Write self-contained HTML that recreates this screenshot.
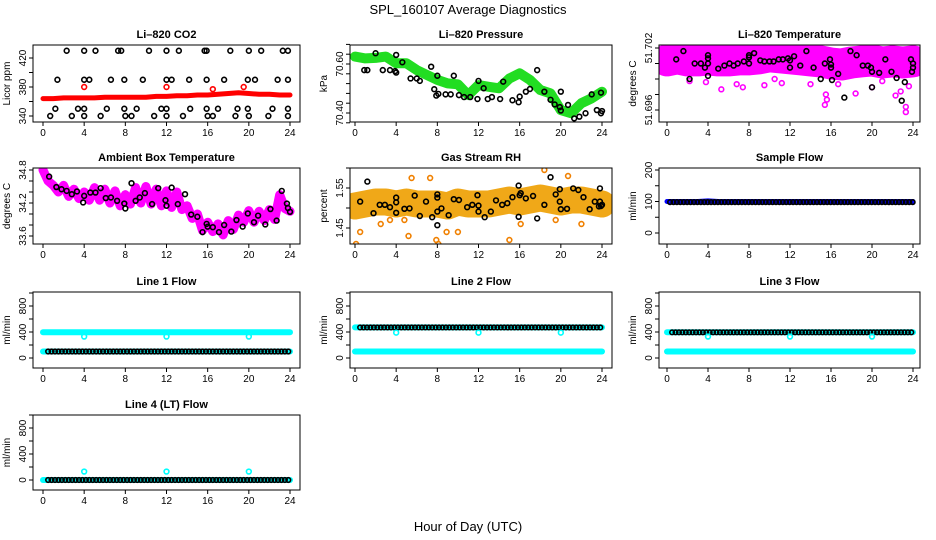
<!DOCTYPE html>
<html><head><meta charset="utf-8">
<style>
html,body{margin:0;padding:0;background:#fff;}
svg{display:block;font-family:"Liberation Sans",Arial,sans-serif;}
</style></head>
<body>
<svg id="chart" width="936" height="540" viewBox="0 0 936 540" xmlns="http://www.w3.org/2000/svg">
<text x="468" y="14" font-size="13" text-anchor="middle">SPL_160107  Average Diagnostics</text>
<text x="468" y="531" font-size="13" text-anchor="middle">Hour of Day (UTC)</text>
</svg>
<script>
// ---------- data ----------
const hours = [0,1,2,3,4,5,6,7,8,9,10,11,12,13,14,15,16,17,18,19,20,21,22,23,24];
const xTicks = [0,4,8,12,16,20,24];

// CO2
const co2Red = [364,364,365,365,365,365,366,366,366,366,366,367,367,368,368,369,369,370,371,372,371,370,370,369,369];
const co2RedOutX = [4,12,16.5,19.5];
const co2RedOutY = [380,380,377,380];
const co2X430 = [2.3,4,5.1,7.3,7.6,10.3,12,13.2,15.7,15.9,18.2,20,21.2,23.3,23.8];
const co2X390 = [1.4,4,4.5,6.6,7.9,9.7,12,12.5,14.2,15.9,17.6,19.9,20.6,22.8,23.8];
const co2X350 = [1.2,3.4,4,6.2,7.9,9.1,11.5,12,14.3,15.9,17,18.9,19.9,22.3,23.8];
const co2X340 = [0.7,2.8,4,5.6,8,8.6,10.8,12,13.6,16,16.5,18.7,20,21.9,23.8];

// Pressure
const presGreen = [70.63,70.623,70.625,70.63,70.603,70.603,70.575,70.555,70.535,70.521,70.517,70.473,70.514,70.507,70.501,70.541,70.562,70.535,70.494,70.48,70.412,70.399,70.44,70.46,70.487];
const presBlackX = [0.9,1.2,2.0,2.7,3.4,3.9,4,4,4.6,5.4,6.0,6.3,7.4,7.7,8,7.9,8.1,8.8,9.3,9.6,10.1,10.6,11.2,11.9,12,12.5,12.9,13.3,14.1,14.4,15.3,15.9,16,16.6,17,17.7,18.4,19,19.4,19.9,20,20,20.7,21.3,21.8,22.4,23,23.5,23.9,23.9,24];
const presBlackY = [70.575,70.575,70.644,70.575,70.575,70.571,70.637,70.565,70.607,70.541,70.541,70.531,70.589,70.497,70.552,70.471,70.478,70.476,70.476,70.552,70.473,70.465,70.465,70.457,70.531,70.501,70.457,70.465,70.457,70.528,70.452,70.444,70.467,70.487,70.498,70.575,70.487,70.454,70.435,70.424,70.41,70.487,70.433,70.378,70.385,70.399,70.476,70.412,70.399,70.483,70.408];

// Li-820 temperature
const tempBand = [51.7008,51.7010,51.7008,51.7008,51.7009,51.7008,51.7008,51.7009,51.7009,51.7010,51.7012,51.7011,51.7010,51.7009,51.7008,51.7007,51.7005,51.7004,51.7006,51.7007,51.7008,51.7006,51.7007,51.7006,51.7007];
const tempOutX = [0.2,2.2,3.8,5.3,6.8,7.4,9.5,10.5,11.2,14,15.5,15.6,15.4,16.7,18.4,20,21,22.3,22.8,23.3,23.3,23.6];
const tempOutY = [51.6998,51.6988,51.6987,51.6980,51.6985,51.6982,51.6984,51.6990,51.6986,51.6985,51.6975,51.6970,51.6965,51.6985,51.6976,51.6982,51.6988,51.6974,51.6978,51.6963,51.6958,51.6983];
const tempBlackX = [0.9,1.6,2.2,2.7,3.3,4.0,4.0,4.0,4.0,3.7,5.0,5.6,6.1,6.5,6.9,7.5,8,8,8,8.5,9.1,9.5,10.0,10.4,10.9,11.3,11.8,12,12,12.4,13,13.6,14.3,15.0,15.4,15.9,16,16,16.1,16.7,17.3,17.9,18.5,19.1,19.6,19.9,20,20,20.7,21.3,21.9,22.4,22.9,23.2,23.8,23.9,24,24];
const tempBlackY = [51.7009,51.7017,51.6990,51.7005,51.7005,51.6993,51.7005,51.7010,51.7013,51.7001,51.7000,51.7003,51.7005,51.7003,51.7005,51.7007,51.7005,51.7013,51.7011,51.7015,51.7008,51.7007,51.7007,51.7007,51.7009,51.7009,51.7010,51.7008,51.7001,51.7012,51.7003,51.7017,51.7001,51.6990,51.7005,51.7009,51.7004,51.7001,51.6989,51.6995,51.6972,51.7017,51.7013,51.7003,51.7003,51.7001,51.6997,51.6982,51.6996,51.7009,51.6997,51.6991,51.6969,51.6987,51.7009,51.6997,51.7005,51.7001];

// Ambient box temperature (half-hourly)
const ambMagenta = [34.80,34.60,34.52,34.40,34.52,34.32,34.45,34.28,34.40,34.25,34.48,34.25,34.45,34.20,34.42,34.15,34.35,34.18,34.48,34.20,34.50,34.18,34.45,34.15,34.42,34.12,34.40,34.08,34.15,33.92,34.00,33.70,33.85,33.68,33.82,33.62,33.88,33.72,33.98,33.85,34.06,33.85,34.05,33.88,34.08,33.90,34.35,34.10,34.05];
const ambBlackX = [0.6,1.3,1.8,2.3,2.8,3.3,3.9,4,4.6,5.1,5.6,6.1,6.6,7.2,7.9,8,8.6,9.0,9.4,9.9,10.6,11.2,11.9,12,12.5,13.1,13.8,14.4,15,15.5,15.9,16,16.5,17.1,17.6,18.3,18.8,19.4,19.9,20.5,20.9,21.6,22.1,22.7,23.2,23.7,23.8,24];
const ambBlackY = [34.68,34.49,34.45,34.42,34.36,34.41,34.21,34.33,34.39,34.39,34.47,34.29,34.30,34.24,34.19,34.10,34.56,34.24,34.30,34.38,34.18,34.47,34.25,34.15,34.48,34.18,34.36,33.99,33.95,33.67,33.82,33.77,33.76,33.67,33.80,33.68,33.89,33.77,34.01,33.85,33.97,33.81,34.09,33.88,34.42,34.19,34.11,34.04];

// Gas stream RH
const rhBand = [1.505,1.51,1.515,1.515,1.51,1.515,1.51,1.51,1.51,1.505,1.515,1.51,1.51,1.51,1.515,1.52,1.515,1.52,1.525,1.52,1.515,1.52,1.52,1.515,1.51];
const rhOutX = [0.1,0.5,2.5,3.4,5.2,4.8,7.3,7.9,8.1,8.9,10.0,15.0,16.1,18.4,20.7,22.0,19.5,5.5];
const rhOutY = [1.41,1.44,1.46,1.47,1.43,1.47,1.575,1.42,1.41,1.44,1.44,1.42,1.46,1.595,1.58,1.46,1.47,1.575];
const rhBlackX = [0.5,1.2,1.8,2.4,2.9,3.4,4,4,4,4.8,5.3,5.8,6.3,6.9,7.5,8,8,8,8,8.4,9.1,9.6,10.1,10.9,11.4,11.9,12,12,12.6,13.2,13.7,14.3,14.8,15.3,15.9,15.9,16,16.1,16.6,17.3,17.7,18.4,19,19.5,19.9,19.9,20,20.6,21.2,21.7,22.2,22.8,23.3,23.8,23.8,23.9,24,23.7];
const rhBlackY = [1.516,1.566,1.487,1.508,1.508,1.502,1.526,1.514,1.488,1.498,1.499,1.531,1.48,1.516,1.477,1.491,1.457,1.526,1.534,1.499,1.482,1.522,1.52,1.502,1.508,1.532,1.491,1.506,1.477,1.491,1.519,1.508,1.512,1.527,1.556,1.478,1.532,1.537,1.524,1.53,1.474,1.508,1.577,1.534,1.547,1.516,1.497,1.498,1.549,1.545,1.527,1.497,1.516,1.549,1.516,1.505,1.508,1.504];

// Flows (hourly)
const sampleBlue = [100,100,100,100,102,100,100,100,100,100,100,100,100,100,100,100,100,100,100,100,100,100,100,100,100];
const sampleBlack = [98,98,98,98,98,98,98,98,98,98,98,98,98,98,98,98,98,98,98,98,98,98,98,98,98];
const line1CyanHi = [395,395,395,395,395,395,395,395,395,395,395,395,395,395,395,395,395,395,395,395,395,395,395,395,395];
const line1CyanLo = [100,100,100,100,100,100,100,100,100,100,100,100,100,100,100,100,100,100,100,100,100,100,100,100,100];
const line1Black = [100,100,100,100,100,100,100,100,100,100,100,100,100,100,100,100,100,100,100,100,100,100,100,100,100];
const line1DipX = [4,12,20];
const line1DipY = [330,330,330];
const line2CyanHi = [470,470,470,470,470,470,470,470,470,470,470,470,470,470,470,470,470,470,470,470,470,470,470,470,470];
const line2CyanLo = [100,100,100,100,100,100,100,100,100,100,100,100,100,100,100,100,100,100,100,100,100,100,100,100,100];
const line2Black = [470,470,470,470,470,470,470,470,470,470,470,470,470,470,470,470,470,470,470,470,470,470,470,470,470];
const line2DipX = [4,12,20];
const line2DipY = [390,390,390];
const line3CyanHi = [395,395,395,395,395,395,395,395,395,395,395,395,395,395,395,395,395,395,395,395,395,395,395,395,395];
const line3CyanLo = [100,100,100,100,100,100,100,100,100,100,100,100,100,100,100,100,100,100,100,100,100,100,100,100,100];
const line3Black = [395,395,395,395,395,395,395,395,395,395,395,395,395,395,395,395,395,395,395,395,395,395,395,395,395];
const line3DipX = [4,12,20];
const line3DipY = [330,330,330];
const line4Cyan = [0,0,0,0,0,0,0,0,0,0,0,0,0,0,0,0,0,0,0,0,0,0,0,0,0];
const line4Black = [0,0,0,0,0,0,0,0,0,0,0,0,0,0,0,0,0,0,0,0,0,0,0,0,0];
const line4SpikeX = [4,12,20];
const line4SpikeY = [130,130,130];

// ---------- drawing ----------
const NS = "http://www.w3.org/2000/svg";
const svg = document.getElementById("chart");
const colL = [33,350,659], colR = [300,612,920], colX0 = [43,355,667], colX24 = [290,602,913];
const rowT = [45,168,292,415], rowB = [122,244,368,490];
function mk(tag, attrs, parent){ const e=document.createElementNS(NS,tag); for(const k in attrs) e.setAttribute(k,attrs[k]); (parent||svg).appendChild(e); return e; }

function panel(id, r, c, title, ylab, v1, p1, v2, p2, yticks, ylabels, dec){
  const g = mk("g",{});
  
  
  const L=colL[c], R=colR[c], T=rowT[r], B=rowB[r];
  const xs = h => colX0[c] + (colX24[c]-colX0[c])*h/24;
  const ys = v => p1 + (v-v1)*(p2-p1)/(v2-v1);
  const cp = mk("clipPath",{id:"clip-"+id},g);
  mk("rect",{x:L,y:T,width:R-L,height:B-T},cp);
  const plot = mk("g",{"clip-path":"url(#clip-"+id+")"},g);
  const t = mk("text",{x:(L+R)/2,y:T-7,"font-size":"11","font-weight":"bold","text-anchor":"middle"},g);
  t.textContent = title;
  
  
  const yl = mk("text",{x:0,y:0,"font-size":"10","text-anchor":"middle",transform:`translate(${L-23},${(T+B)/2}) rotate(-90)`},g);
  yl.textContent = ylab;
  
  
  mk("rect",{x:L,y:T,width:R-L,height:B-T,fill:"none",stroke:"#000","stroke-width":1},g);
  xTicks.forEach(h=>{
    const x=xs(h);
    mk("line",{x1:x,y1:B,x2:x,y2:B+4,stroke:"#000"},g);
    const tl=mk("text",{x:x,y:B+14,"font-size":"10","text-anchor":"middle"},g);
    tl.textContent=h;
    
    
  });
  yticks.forEach(v=>{
    const y=ys(v); if(y<T-2||y>B+2) return;
    mk("line",{x1:L-4,y1:y,x2:L,y2:y,stroke:"#000"},g);
  });
  ylabels.forEach(v=>{
    const y=ys(v);
    const tl=mk("text",{x:0,y:0,"font-size":"10","text-anchor":"middle",transform:`translate(${L-7},${y}) rotate(-90)`},g);
    tl.textContent= dec!==undefined ? v.toFixed(dec) : v;
    
    
  });
  return {plot, xs, ys};
}
function band(P, xsArr, vals, color, w, name, op){
  const pts = vals.map((v,i)=>P.xs(xsArr[i]).toFixed(1)+","+P.ys(v).toFixed(1)).join(" ");
  const pl = mk("polyline",{points:pts,fill:"none",stroke:color,"stroke-width":w,"stroke-linejoin":"round","stroke-linecap":"round","stroke-opacity":op||1},P.plot);
  
  
}
function pts(P, xArr, yArr, color, name, r){
  xArr.forEach((h,i)=>{
    const c = mk("circle",{cx:P.xs(h),cy:P.ys(yArr[i]),r:r||2.4,fill:"none",stroke:color,"stroke-width":1.6},P.plot);
    
    
  });
}
function hourlyPts(P, vals, color, name, start){
  vals.forEach((v,i)=>{
    if(i===24) return;
    for(let k=0;k<3;k++){
      const h = i + k/3 + (start||0);
      if(h>24) continue;
      const c = mk("circle",{cx:P.xs(h),cy:P.ys(v),r:2.3,fill:"none",stroke:color,"stroke-width":1.6},P.plot);
      
      
    }
  });
}
const halfHours = ambMagenta.map((_,i)=>i/2);

// Panel 1
let P = panel("co2",0,0,"Li\u2013820 CO2","Licor ppm",340,116,420,58,[340,360,380,400,420],[340,380,420]);
band(P,hours,co2Red,"#ff0000",5,"co2-series");
pts(P,co2RedOutX,co2RedOutY,"#ff0000","co2-outlier");
pts(P,co2X430,co2X430.map(()=>430),"#000","co2-ref-point");
pts(P,co2X390,co2X390.map(()=>390),"#000","co2-ref-point");
pts(P,co2X350,co2X350.map(()=>350),"#000","co2-ref-point");
pts(P,co2X340,co2X340.map(()=>340),"#000","co2-ref-point");

// Panel 2
P = panel("pressure",0,1,"Li\u2013820 Pressure","kPa",70.40,113,70.60,64,[70.36,70.40,70.44,70.48,70.52,70.56,70.60,70.64,70.68],[70.40,70.60],2);
band(P,hours,presGreen,"#22dd22",10,"pressure-series");
pts(P,presBlackX,presBlackY,"#000","pressure-ref-point");

// Panel 3
P = panel("temperature",0,2,"Li\u2013820 Temperature","degrees C",51.696,110,51.702,48,[51.6945,51.696,51.6975,51.699,51.7005,51.702],[51.696,51.702],3);
band(P,hours,tempBand,"#ff00ff",32,"temperature-series");
pts(P,tempOutX,tempOutY,"#ff00ff","temperature-outlier");
pts(P,tempBlackX,tempBlackY,"#000","temperature-ref-point");

// Panel 4
P = panel("ambient",1,0,"Ambient Box Temperature","degrees C",33.6,236,34.8,170,[33.6,33.8,34.0,34.2,34.4,34.6,34.8],[33.6,34.2,34.8],1);
band(P,halfHours,ambMagenta,"#ff00ff",9,"ambient-series");
pts(P,ambBlackX,ambBlackY,"#000","ambient-ref-point");

// Panel 5
P = panel("rh",1,1,"Gas Stream RH","percent",1.45,228,1.55,188,[1.40,1.45,1.50,1.55,1.60],[1.45,1.55],2);
band(P,hours,rhBand,"#f0a818",27,"rh-series");
pts(P,rhOutX,rhOutY,"#f08000","rh-outlier");
pts(P,rhBlackX,rhBlackY,"#000","rh-ref-point");

// Panel 6
P = panel("sample-flow",1,2,"Sample Flow","ml/min",0,233,200,170,[0,50,100,150,200],[0,100,200]);
band(P,hours,sampleBlue,"#0000ff",5,"sample-flow-series");
hourlyPts(P,sampleBlack,"#000","sample-flow-ref-point",0.3);

// Row 3
const flowTicks=[-200,0,200,400,600,800,1000], flowLabels=[0,400,800];
P = panel("line1-flow",2,0,"Line 1 Flow","ml/min",0,358,800,306,flowTicks,flowLabels);
band(P,hours,line1CyanHi,"#00ffff",6,"line1-flow-series");
band(P,hours,line1CyanLo,"#00ffff",6,"line1-flow-series");
hourlyPts(P,line1Black,"#000","line1-flow-ref-point",0.5);
pts(P,line1DipX,line1DipY,"#00ffff","line1-flow-dip");

P = panel("line2-flow",2,1,"Line 2 Flow","ml/min",0,358,800,306,flowTicks,flowLabels);
band(P,hours,line2CyanHi,"#00ffff",6,"line2-flow-series");
band(P,hours,line2CyanLo,"#00ffff",6,"line2-flow-series");
hourlyPts(P,line2Black,"#000","line2-flow-ref-point",0.5);
pts(P,line2DipX,line2DipY,"#00ffff","line2-flow-dip");

P = panel("line3-flow",2,2,"Line 3 Flow","ml/min",0,358,800,306,flowTicks,flowLabels);
band(P,hours,line3CyanHi,"#00ffff",6,"line3-flow-series");
band(P,hours,line3CyanLo,"#00ffff",6,"line3-flow-series");
hourlyPts(P,line3Black,"#000","line3-flow-ref-point",0.5);
pts(P,line3DipX,line3DipY,"#00ffff","line3-flow-dip");

// Row 4
P = panel("line4-flow",3,0,"Line 4 (LT) Flow","ml/min",0,480,800,428,flowTicks,flowLabels);
band(P,hours,line4Cyan,"#00ffff",6,"line4-flow-series");
hourlyPts(P,line4Black,"#000","line4-flow-ref-point",0.5);
pts(P,line4SpikeX,line4SpikeY,"#00ffff","line4-flow-spike");
</script>
</body></html>
